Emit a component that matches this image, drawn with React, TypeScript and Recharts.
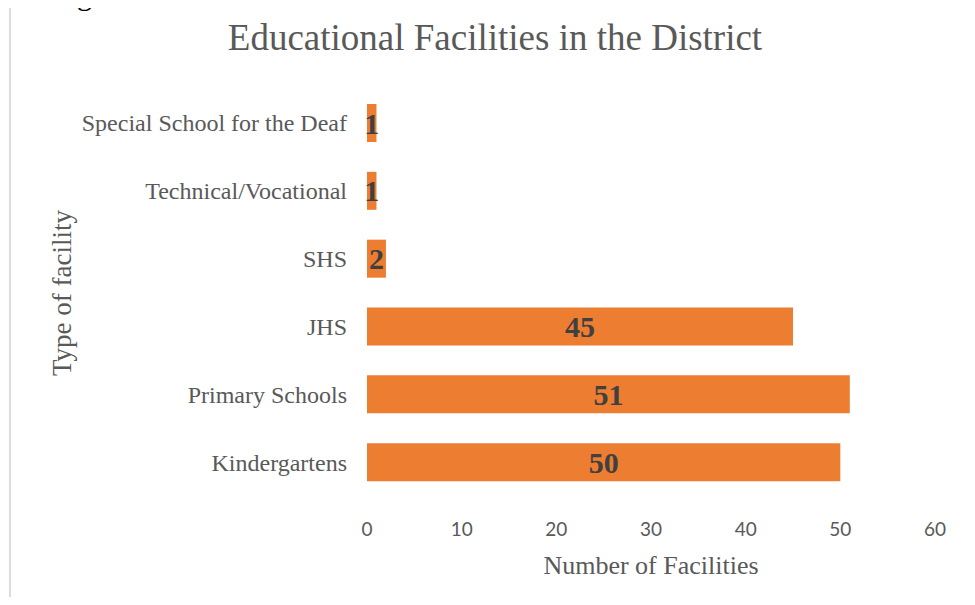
import React from "react";
import { BarChart, Bar, XAxis, YAxis, LabelList } from "recharts";

const categories = [
  "Special School for the Deaf",
  "Technical/Vocational",
  "SHS",
  "JHS",
  "Primary Schools",
  "Kindergartens",
];
const facilityCounts = [1, 1, 2, 45, 51, 50];
const xTicks = [0, 10, 20, 30, 40, 50, 60];

const data = categories.map((name, i) => ({ name, count: facilityCounts[i] }));

const serif = "'Liberation Serif', 'Times New Roman', serif";

export default function App() {
  return (
    <div style={{ position: "relative", width: 975, height: 605, margin: -8, background: "#fff", overflow: "hidden" }}>
      <div style={{ position: "absolute", left: 9, top: 0, width: 2, height: 605, background: "#dcdcdc" }} />
      {/* tail of a caption cut off by the crop */}
      <div style={{ position: "absolute", left: 77, top: -20, lineHeight: 1, fontFamily: serif, fontSize: 30, color: "#000" }}>
        g
      </div>
      <div
        style={{
          position: "absolute",
          left: 0,
          width: 990,
          top: 16,
          textAlign: "center",
          fontFamily: serif,
          fontSize: 37,
          color: "#595959",
        }}
      >
        Educational Facilities in the District
      </div>
      <div
        style={{
          position: "absolute",
          left: 62,
          top: 293,
          transform: "translate(-50%, -50%) rotate(-90deg)",
          whiteSpace: "nowrap",
          fontFamily: serif,
          fontSize: 27,
          color: "#595959",
        }}
      >
        Type of facility
      </div>
      <div
        style={{
          position: "absolute",
          left: 651,
          top: 566,
          transform: "translate(-50%, -50%)",
          whiteSpace: "nowrap",
          fontFamily: serif,
          fontSize: 26,
          color: "#595959",
        }}
      >
        Number of Facilities
      </div>
      <div style={{ position: "absolute", left: 0, top: 0 }}>
        <BarChart
          width={975}
          height={605}
          data={data}
          layout="vertical"
          margin={{ top: 89, right: 40, bottom: 29, left: 0 }}
        >
          <XAxis
            type="number"
            domain={[0, 60]}
            ticks={xTicks}
            axisLine={false}
            tickLine={false}
            tickSize={0}
            tickMargin={27}
            height={80}
            tick={{ fontFamily: "Lato, 'Noto Sans', sans-serif", fontSize: 19, fill: "#595959" }}
          />
          <YAxis
            type="category"
            dataKey="name"
            width={367}
            axisLine={false}
            tickLine={false}
            tickSize={0}
            tickMargin={20}
            interval={0}
            tick={{ fontFamily: serif, fontSize: 24, fill: "#595959" }}
          />
          <Bar dataKey="count" fill="#ED7D31" barSize={38} isAnimationActive={false}>
            <LabelList
              dataKey="count"
              position="center"
              style={{ fontFamily: serif, fontSize: 30, fontWeight: "bold", fill: "#404040" }}
            />
          </Bar>
        </BarChart>
      </div>
    </div>
  );
}
